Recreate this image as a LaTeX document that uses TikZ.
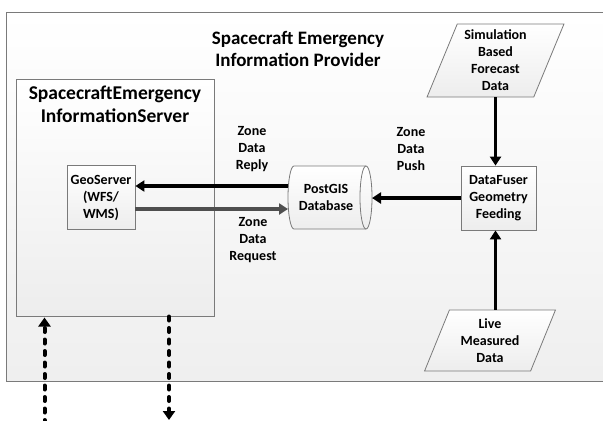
\documentclass[tikz,border=0pt]{standalone}
\usepackage{fontspec}
\setmainfont{Carlito}
\usetikzlibrary{arrows.meta,shapes.geometric}
\definecolor{edge}{HTML}{7A7A7A}
\definecolor{fillb}{HTML}{EDEDED}
\definecolor{reqgray}{HTML}{4F4F4F}
\begin{document}
\begin{tikzpicture}[x=1bp,y=-1bp,
  shade/.style={top color=white,bottom color=fillb},
  box/.style={draw=edge,line width=0.8bp,shade,align=center,inner sep=1bp,
    font=\fontsize{14bp}{17bp}\selectfont\bfseries},
  para/.style={trapezium,trapezium left angle=68,trapezium right angle=112,
    trapezium stretches=true,draw=edge,line width=0.8bp,shade,align=center,inner sep=1bp,
    font=\fontsize{14bp}{17bp}\selectfont\bfseries},
  lbl/.style={align=center,inner sep=0,font=\fontsize{14bp}{17bp}\selectfont\bfseries},
  arr/.style={line width=3.8bp,-{Triangle[length=9bp,width=11bp]}},
  dasharr/.style={line width=4bp,dash pattern=on 4bp off 7.5bp,line cap=round,
    -{Triangle[length=9bp,width=12bp,line cap=butt]}},
]
\useasboundingbox (0,0) rectangle (603,420);
% outer provider box
\draw[draw=edge,line width=1bp,top color=white,bottom color=fillb!90] (6,12) rectangle (615,381);
\node[lbl,font=\fontsize{19bp}{22bp}\selectfont\bfseries] (title) at (298,49)
  {Spacecraft Emergency\\Information Provider};
% server box
\node[draw=edge,line width=1bp,shade,minimum width=197bp,minimum height=237bp,inner sep=0]
  (srv) at (115.5,197.5) {};
\node[lbl,font=\fontsize{19.5bp}{23bp}\selectfont\bfseries] (srvt) at (115,104)
  {SpacecraftEmergency\\InformationServer};
% GeoServer
\node[box,minimum width=68bp,minimum height=64bp] (geo) at (101,197.5)
  {GeoServer\\(WFS/\\WMS)};
% PostGIS cylinder
\node[minimum width=84bp,minimum height=63bp,inner sep=0,outer sep=0] (pg) at (330,197.5) {};
\draw[draw=edge,line width=0.8bp,shade]
  (294,166) -- (366,166) arc[start angle=-90,end angle=90,x radius=6,y radius=31.5]
  -- (294,229) arc[start angle=90,end angle=270,x radius=6,y radius=31.5] -- cycle;
\draw[draw=edge,line width=0.8bp] (366,229) arc[start angle=90,end angle=270,x radius=6,y radius=31.5];
\node[lbl] (pgt) at (326,197.5) {PostGIS\\Database};
% DataFuser
\node[box,minimum width=75bp,minimum height=64bp] (df) at (498.5,198)
  {DataFuser\\Geometry\\Feeding};
% sources
\node[para,minimum width=137bp,minimum height=73bp] (sim) at (495.5,60.5)
  {Simulation\\Based\\Forecast\\Data};
\node[para,minimum width=132bp,minimum height=61bp] (live) at (490,340.5)
  {Live\\Measured\\Data};
% labels
\node[lbl] (reply) at (252,149) {Zone\\Data\\Reply};
\node[lbl] (req) at (253,240) {Zone\\Data\\Request};
\node[lbl] (push) at (411,149) {Zone\\Data\\Push};
% arrows
\draw[arr] (sim.south) -- (sim.south |- df.north);
\draw[arr] (live.north -| sim.south) -- (sim.south |- df.south);
\draw[arr] (df.west) -- (df.west -| pg.east);
\draw[arr] ([yshift=11.5bp]pg.west) -- ([yshift=11.5bp]geo.east);
\draw[arr,draw=reqgray,fill=reqgray] ([yshift=-11.5bp]geo.east) -- ([yshift=-11.5bp]pg.west);
% external dashed arrows
\coordinate (inL) at (44.5,424);
\coordinate (outR) at (169,420);
\draw[dasharr,shorten >=1bp] (inL) -- (inL |- srv.south);
\draw[dasharr] (outR |- srv.south) -- (outR);
\end{tikzpicture}
\end{document}
